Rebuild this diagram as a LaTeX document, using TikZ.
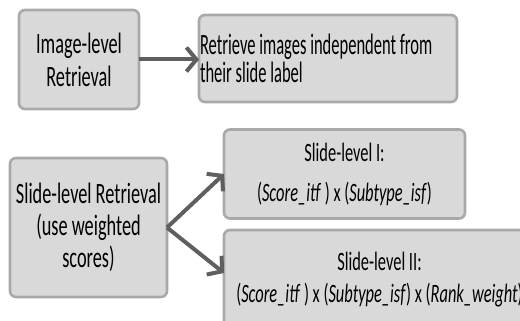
\documentclass[tikz,border=0pt]{standalone}
\usepackage{fontspec}
\setmainfont{Carlito}[FakeStretch=0.62]
\newfontfamily\tallfont{Carlito}[FakeStretch=0.56]
\usetikzlibrary{arrows.meta,calc}
\definecolor{boxfill}{HTML}{D9D9D9}
\definecolor{boxedge}{HTML}{A9A9A9}
\definecolor{arrowgray}{HTML}{5F5F5F}
\tikzset{
  box/.style={draw=boxedge, fill=boxfill, line width=2.6pt, rounded corners=6pt,
    inner sep=0pt, outer sep=0pt, text=black, align=center},
  link/.style={draw=arrowgray, line width=4pt,
    -{Straight Barb[length=10pt,width=24pt,line width=4pt]}}
}
\begin{document}
\begin{tikzpicture}[x=1pt,y=-1pt]
  \useasboundingbox (0,0) rectangle (520,321);
  \clip (0,0) rectangle (520,321);

  % top row
  \node[box, font=\fontsize{29.5}{33}\selectfont, minimum width=120pt, minimum height=99pt]
    (img) at (79,59.5) {Image-level\\Retrieval};
  \node[box, font=\tallfont\fontsize{29.5}{28}\selectfont, minimum width=258pt,
    minimum height=87pt, text width=256pt, align=flush left] (indep) at (328,58.5)
    {Retrieve images independent from\\their slide label};

  % slide-level branch
  \node[box, font=\fontsize{29.5}{32}\selectfont, minimum width=157pt, minimum height=139pt]
    (slide) at (88.5,227.5)
    {Slide-level Retrieval\\(use weighted\\scores)};
  \node[box, font=\fontsize{26.5}{40}\selectfont, minimum width=241pt, minimum height=89pt]
    (one) at (344.5,174)
    {Slide-level I:\\(\textit{Score\_itf} ) x (\textit{Subtype\_isf})};
  \node[box, font=\fontsize{26.5}{32}\selectfont, minimum width=311pt, minimum height=100pt]
    (two) at (379.5,280)
    {Slide-level II:\\(\textit{Score\_itf} ) x (\textit{Subtype\_isf}) x (\textit{Rank\_weight})};

  % connectors
  \draw[link] (img.east) -- (img.east -| indep.west);
  \draw[link] (slide.east) -- (one.west);
  \draw[link] (slide.east) -- ($(two.north west)+(0,43)$);
\end{tikzpicture}
\end{document}
